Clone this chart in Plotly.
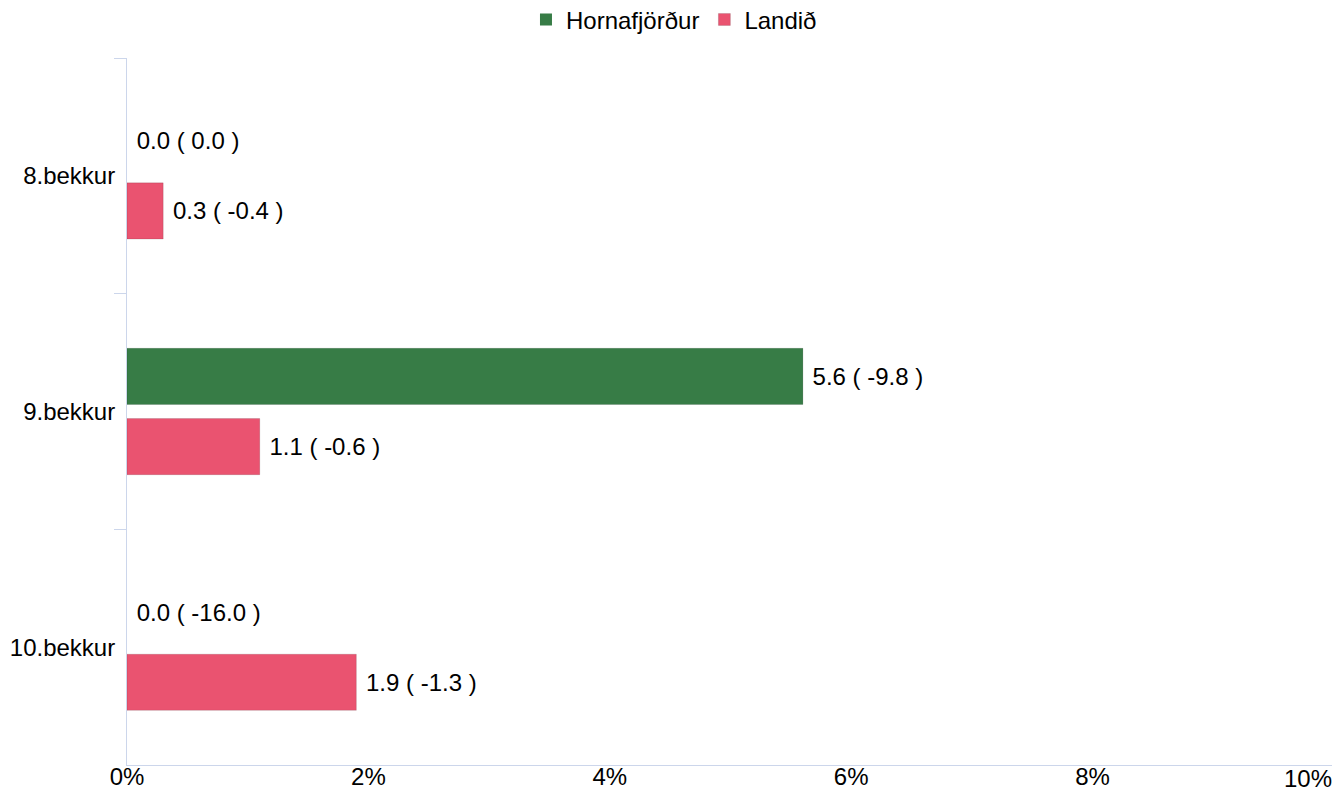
import plotly.graph_objects as go

categories = ["8.bekkur", "9.bekkur", "10.bekkur"]
horn_values = [0.0, 5.6, 0.0]
horn_change = [0.0, -9.8, -16.0]
land_values = [0.3, 1.1, 1.9]
land_change = [-0.4, -0.6, -1.3]
x_ticks = [0, 2, 4, 6, 8]
x_tick_labels = ["0%", "2%", "4%", "6%", "8%"]

font = "Liberation Sans, Arial, sans-serif"
axis_col = "#ccd6eb"
fsize = 24


def labels(vals, changes):
    return [" %.1f ( %.1f )" % (v, c) for v, c in zip(vals, changes)]


def edge(vals):
    # no outline on empty bars
    return [0 if v == 0 else 1 for v in vals]


fig = go.Figure()
fig.add_trace(go.Bar(
    y=categories, x=horn_values, name="Hornafjörður", orientation="h",
    marker=dict(color="#377c46", line=dict(color="rgba(0,0,0,0.12)", width=edge(horn_values))),
    text=labels(horn_values, horn_change), textposition="outside",
    textfont=dict(size=fsize, color="#000000", family=font),
    cliponaxis=False, constraintext="none",
))
fig.add_trace(go.Bar(
    y=categories, x=land_values, name="Landið", orientation="h",
    marker=dict(color="#ea5370", line=dict(color="rgba(0,0,0,0.12)", width=edge(land_values))),
    text=labels(land_values, land_change), textposition="outside",
    textfont=dict(size=fsize, color="#000000", family=font),
    cliponaxis=False, constraintext="none",
))

# the page body adds an 8px offset, so margins are shifted to compensate
fig.update_layout(
    width=1340, height=790,
    margin=dict(l=119, r=14, t=50, b=33, autoexpand=False),
    paper_bgcolor="white", plot_bgcolor="white",
    font=dict(family=font, size=fsize, color="#000000"),
    barmode="group", bargap=0.404, bargroupgap=0.2,
    showlegend=True,
    legend=dict(orientation="h", x=0.497, xref="container", xanchor="center",
                y=0.985, yref="container", yanchor="middle",
                font=dict(size=fsize), traceorder="normal", itemwidth=30),
    xaxis=dict(range=[0, 10], tickvals=x_ticks, ticktext=x_tick_labels,
               showgrid=False, zeroline=False, showline=True, linecolor=axis_col,
               ticks="", tickfont=dict(size=fsize), automargin=False,
               ticklabelstandoff=-10),
    yaxis=dict(autorange="reversed", showgrid=False, zeroline=False,
               showline=True, linecolor=axis_col, ticks="outside",
               tickson="boundaries", ticklen=12, tickcolor=axis_col,
               ticklabelstandoff=6, tickfont=dict(size=fsize), automargin=False),
    annotations=[dict(text="10%", x=10, xref="x", y=0, yref="paper",
                      xanchor="right", yanchor="middle", yshift=-13, showarrow=False,
                      font=dict(size=fsize, family=font, color="#000000"))],
)

fig.write_html("out.html")
